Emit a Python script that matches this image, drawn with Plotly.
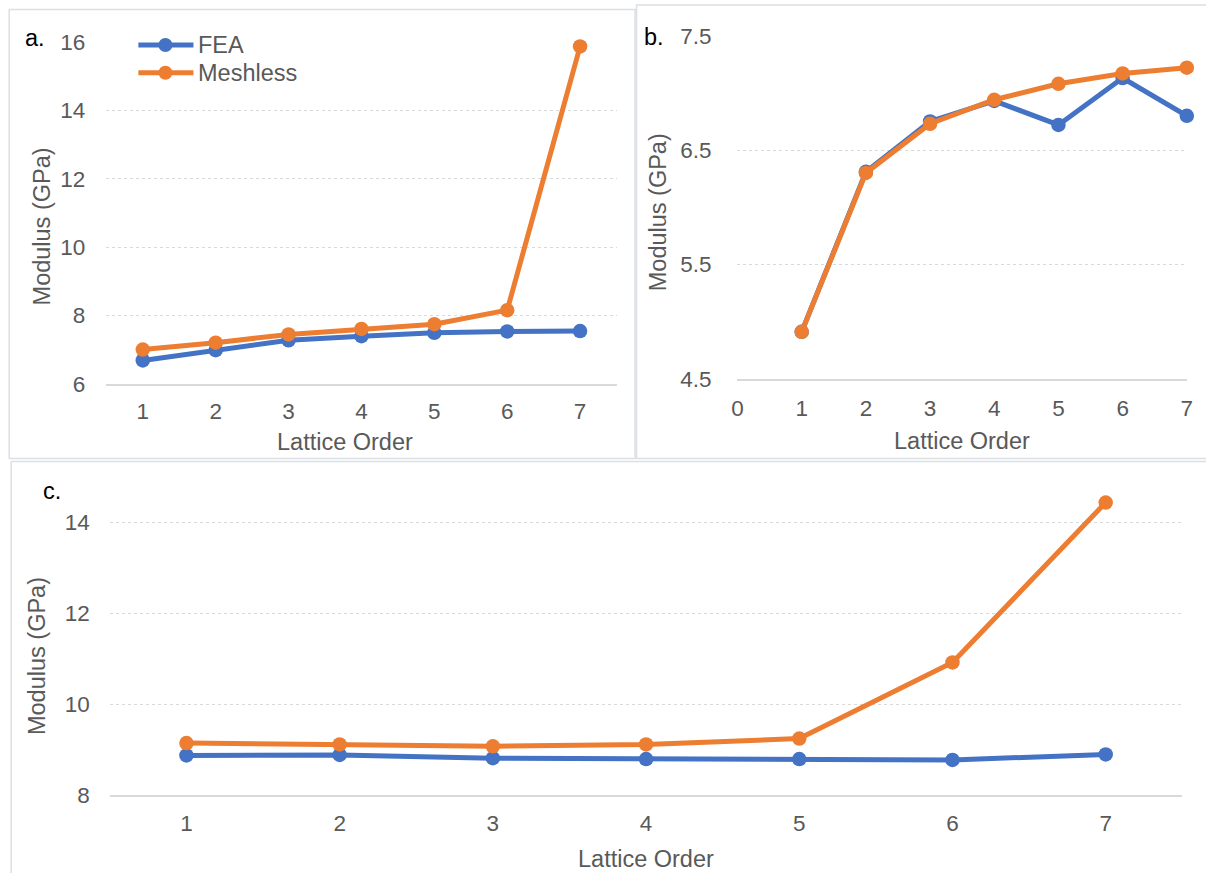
import plotly.graph_objects as go

# Lattice order on the horizontal axis of every panel
lattice_order = [1, 2, 3, 4, 5, 6, 7]

# Panel a
fea_a = [6.69, 6.99, 7.28, 7.40, 7.50, 7.54, 7.55]
meshless_a = [7.01, 7.21, 7.45, 7.61, 7.75, 8.16, 15.86]

# Panel b
fea_b = [4.91, 6.31, 6.75, 6.93, 6.72, 7.13, 6.80]
meshless_b = [4.91, 6.30, 6.73, 6.94, 7.08, 7.17, 7.22]

# Panel c
fea_c = [8.88, 8.89, 8.82, 8.80, 8.80, 8.78, 8.90]
meshless_c = [9.15, 9.12, 9.08, 9.12, 9.25, 10.92, 14.43]

series_names = ["FEA", "Meshless"]
panel_labels = ["a.", "b.", "c."]
x_title = "Lattice Order"
y_title = "Modulus (GPa)"

W, H = 1206, 873
BLUE = "#4472C4"
ORANGE = "#ED7D31"
GREY_TXT = "#595959"
GRID = "#d9d9d9"
FONT = "Arial, Liberation Sans, sans-serif"

# Page placement of the figure (offset and scale of the drawn canvas on the page)
OFF_X, SC_X = 6.8, 0.9887
OFF_Y, SC_Y = 12.1, 0.970


def px_x(p):
    """Page x pixel -> paper fraction."""
    return (p - OFF_X) / SC_X / W


def px_y(p):
    """Page y pixel (from top) -> paper fraction."""
    return 1 - (p - OFF_Y) / SC_Y / H


fig = go.Figure()

panels = [
    ("x", "y", fea_a, meshless_a),
    ("x2", "y2", fea_b, meshless_b),
    ("x3", "y3", fea_c, meshless_c),
]
for xa, ya, fea, mesh in panels:
    for name, vals, col in ((series_names[0], fea, BLUE), (series_names[1], mesh, ORANGE)):
        fig.add_trace(go.Scatter(
            x=lattice_order, y=vals, name=name, xaxis=xa, yaxis=ya,
            mode="lines+markers", showlegend=False, cliponaxis=False,
            line=dict(color=col, width=5),
            marker=dict(color=col, size=14.5),
        ))

TICK_SIZE = 22.5
TITLE_SIZE = 23.5

common_x = dict(showgrid=False, showline=True, linecolor=GRID, linewidth=2,
                zeroline=False, ticks="", fixedrange=True,
                tickfont=dict(family=FONT, size=TICK_SIZE, color=GREY_TXT))
common_y = dict(showgrid=True, gridcolor=GRID, gridwidth=1.2, griddash="dot",
                showline=False, zeroline=False, ticks="",
                tickfont=dict(family=FONT, size=TICK_SIZE, color=GREY_TXT))

fig.update_layout(
    width=W, height=H,
    margin=dict(l=0, r=0, t=0, b=0),
    paper_bgcolor="white", plot_bgcolor="white",
    font=dict(family=FONT, color=GREY_TXT),
    xaxis=dict(domain=[px_x(107), px_x(616.5)], anchor="y", range=[0.5, 7.5],
               tickvals=lattice_order, ticklabelstandoff=6, **common_x),
    yaxis=dict(domain=[px_y(383.7), px_y(41.7)], anchor="x", range=[6, 16],
               tick0=6, dtick=2, ticklabelstandoff=20, **common_y),
    xaxis2=dict(domain=[px_x(737.3), px_x(1186)], anchor="y2", range=[0, 7],
                tick0=0, dtick=1, ticklabelstandoff=8, **common_x),
    yaxis2=dict(domain=[px_y(378.3), px_y(35.8)], anchor="x2", range=[4.5, 7.5],
                tick0=4.5, dtick=1, tickformat=".1f", ticklabelstandoff=25, **common_y),
    xaxis3=dict(domain=[px_x(110.5), px_x(1181.5)], anchor="y3", range=[0.5, 7.5],
                tickvals=lattice_order, ticklabelstandoff=7, **common_x),
    yaxis3=dict(domain=[px_y(794.5), px_y(494.2)], anchor="x3", range=[8, 14.6],
                tick0=8, dtick=2, ticklabelstandoff=19, **common_y),
)

# Panel frames
frame = dict(type="rect", xref="paper", yref="paper",
             line=dict(color="#dcdfe4", width=1.5), fillcolor="rgba(0,0,0,0)", layer="below")
fig.add_shape(x0=px_x(10), x1=px_x(635), y0=px_y(458), y1=px_y(9.5), **frame)
fig.add_shape(x0=px_x(636.5), x1=px_x(1215), y0=px_y(458), y1=px_y(5), **frame)
fig.add_shape(x0=px_x(12), x1=px_x(1215), y0=px_y(885), y1=px_y(461), **frame)

# Legend for panel a
for i, (name, col) in enumerate(zip(series_names, (BLUE, ORANGE))):
    yc = 45 + i * 27.7
    fig.add_shape(type="line", xref="paper", yref="paper",
                  x0=px_x(139), x1=px_x(194), y0=px_y(yc), y1=px_y(yc),
                  line=dict(color=col, width=5))
    fig.add_shape(type="circle", xref="paper", yref="paper",
                  x0=px_x(166 - 7), x1=px_x(166 + 7),
                  y0=px_y(yc + 7), y1=px_y(yc - 7),
                  line=dict(color=col, width=0), fillcolor=col)
    fig.add_annotation(text=name, xref="paper", yref="paper",
                       x=px_x(197), y=px_y(yc), xanchor="left", yanchor="middle",
                       showarrow=False, font=dict(family=FONT, size=TITLE_SIZE, color=GREY_TXT))

# Panel letters
for lab, (xp, yp) in zip(panel_labels, [(24, 38), (642, 37), (42, 490)]):
    fig.add_annotation(text=lab, xref="paper", yref="paper", x=px_x(xp), y=px_y(yp),
                       xanchor="left", yanchor="middle", showarrow=False,
                       font=dict(family=FONT, size=TITLE_SIZE, color="black"))

# Axis titles
for (xp, yp) in [(345, 441), (961, 440), (646, 858)]:
    fig.add_annotation(text=x_title, xref="paper", yref="paper", x=px_x(xp), y=px_y(yp),
                       xanchor="center", yanchor="middle", showarrow=False,
                       font=dict(family=FONT, size=TITLE_SIZE, color=GREY_TXT))
for (xp, yp) in [(43, 226), (658, 212), (38, 655)]:
    fig.add_annotation(text=y_title, xref="paper", yref="paper", x=px_x(xp), y=px_y(yp),
                       xanchor="center", yanchor="middle", textangle=-90, showarrow=False,
                       font=dict(family=FONT, size=TITLE_SIZE, color=GREY_TXT))

fig.write_html("out.html")
